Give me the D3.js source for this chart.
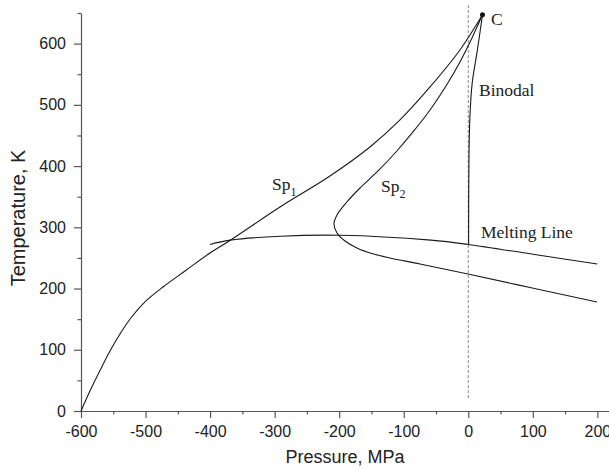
<!DOCTYPE html>
<html>
<head>
<meta charset="utf-8">
<script src="https://cdn.jsdelivr.net/npm/d3@7"></script>
<style>
  html, body { margin: 0; padding: 0; background: #fff; }
  svg { display: block; }
</style>
</head>
<body>
<svg id="chart" width="609" height="470"></svg>
<script>
// ---- Data (P in MPa, T in K) ----
const sp1P = [-600, -586.1, -570.6, -555.1, -539.6, -521, -499.3, -473, -438.9, -400.2, -369.2, -291.7, -214.3, -152.3, -105.8, -59.3, -12.9, 22];
const sp1T = [0, 32.7, 66.1, 98, 125.8, 154.3, 179.7, 202.5, 228.6, 258, 278.5, 333.2, 383.8, 431.2, 475.3, 529.2, 589.6, 647];

const sp2P = [22, 5.7, -12.9, -34.5, -59.3, -85.7, -112, -139.9, -167.8, -189.5, -203.4, -208.1, -203.4, -191, -170.9, -149.2, -121.3, -74.8, -0.5, 95.6, 199.4];
const sp2T = [647, 609.2, 570, 530.8, 491.6, 455.7, 423, 392, 364.2, 339.7, 320.1, 305.4, 290.7, 277.6, 265.4, 257.2, 249.9, 240.1, 223.7, 201.7, 178];

const meltP = [-400, -369, -291, -198, -58, 0, 100, 200];
const meltT = [272, 279, 285.5, 287, 279, 272, 256, 240];

const binP = [22, 14, 6, 2.5, 1, 0.5];
const binT = [647, 589, 535, 480, 409, 272];

const critical = { P: 22, T: 647 };
const zeroLineP = [0, 0];
const zeroLineT = [663, 18];

const xTicks = [-600, -500, -400, -300, -200, -100, 0, 100, 200];
const xMinor = [-550, -450, -350, -250, -150, -50, 50, 150];
const yTicks = [0, 100, 200, 300, 400, 500, 600];
const yMinor = [50, 150, 250, 350, 450, 550, 650];

// ---- Scales ----
const svg = d3.select("#chart");
const x = d3.scaleLinear().domain([-600, 218]).range([81, 609]);
const y = d3.scaleLinear().domain([0, 650]).range([411, 13]);

const axisColor = "#555";
const sansFont = "'Liberation Sans', Arial, sans-serif";
const serifFont = "'Liberation Serif', 'Times New Roman', serif";
const fmt = d => String(d);

// ---- Axes ----
const gx = svg.append("g").attr("transform", `translate(0,${y(0)})`)
  .call(d3.axisBottom(x).tickValues(xTicks).tickFormat(fmt).tickSize(7).tickSizeOuter(0).tickPadding(8));
const gxm = svg.append("g").attr("transform", `translate(0,${y(0)})`)
  .call(d3.axisBottom(x).tickValues(xMinor).tickSize(3.5).tickSizeOuter(0).tickFormat(""));
gxm.select(".domain").remove();

const gy = svg.append("g").attr("transform", `translate(${x(-600)},0)`)
  .call(d3.axisLeft(y).tickValues(yTicks).tickFormat(fmt).tickSize(7).tickSizeOuter(0).tickPadding(8));
const gym = svg.append("g").attr("transform", `translate(${x(-600)},0)`)
  .call(d3.axisLeft(y).tickValues(yMinor).tickSize(3.5).tickSizeOuter(0).tickFormat(""));
gym.select(".domain").remove();

[gx, gxm, gy, gym].forEach(g => {
  g.selectAll("path, line").attr("stroke", axisColor).attr("stroke-width", 1.2);
  g.selectAll("text").attr("fill", "#222").style("font-family", sansFont).style("font-size", "16px");
});

// axis titles
svg.append("text")
  .attr("x", 345).attr("y", 463)
  .attr("text-anchor", "middle")
  .style("font-family", sansFont).style("font-size", "18px").attr("fill", "#222")
  .text("Pressure, MPa");

svg.append("text")
  .attr("transform", "translate(25,218) rotate(-90)")
  .attr("text-anchor", "middle")
  .style("font-family", sansFont).style("font-size", "20px").attr("fill", "#222")
  .text("Temperature, K");

// ---- Lines ----
const toPts = (P, T) => P.map((p, i) => [p, T[i]]);
const line = d3.line().x(d => x(d[0])).y(d => y(d[1])).curve(d3.curveCatmullRom.alpha(0.5));

// dashed zero-pressure line
svg.append("path")
  .datum(toPts(zeroLineP, zeroLineT))
  .attr("d", d3.line().x(d => x(d[0])).y(d => y(d[1])))
  .attr("fill", "none").attr("stroke", "#888").attr("stroke-width", 1)
  .attr("stroke-dasharray", "3,2");

const curves = [toPts(sp1P, sp1T), toPts(sp2P, sp2T), toPts(meltP, meltT), toPts(binP, binT)];
svg.selectAll("path.curve").data(curves).enter().append("path")
  .attr("class", "curve")
  .attr("d", line)
  .attr("fill", "none").attr("stroke", "#1a1a1a").attr("stroke-width", 1.1);

svg.append("circle")
  .attr("cx", x(critical.P)).attr("cy", y(critical.T)).attr("r", 2.5)
  .attr("fill", "#111");

// ---- Annotations ----
function label(xp, yp, main, sub) {
  const t = svg.append("text").attr("x", xp).attr("y", yp)
    .style("font-family", serifFont).style("font-size", "17.5px").attr("fill", "#222");
  t.append("tspan").text(main);
  if (sub) t.append("tspan").attr("dy", 6).style("font-size", "12px").text(sub);
}
label(491, 25, "C");
label(479, 96, "Binodal");
label(481, 238, "Melting Line");
label(272, 190, "Sp", "1");
label(381, 192, "Sp", "2");
</script>
</body>
</html>
